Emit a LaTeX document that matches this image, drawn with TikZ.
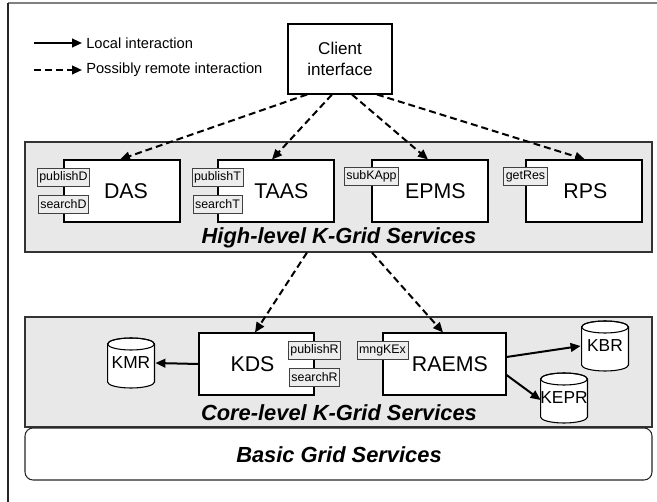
\documentclass[tikz,border=0pt]{standalone}
\usepackage{fontspec}
\setmainfont{Liberation Sans}
\usetikzlibrary{arrows.meta,calc}
\definecolor{layergray}{HTML}{E8E8E8}
\definecolor{portgray}{HTML}{EDEDED}
\tikzset{
  svc/.style={draw, fill=white, line width=0.8pt, minimum width=#1,
    minimum height=46.5pt, inner sep=0pt, font=\fontsize{16}{18}\selectfont},
  svc/.default=87pt,
  port/.style={draw=black!75, fill=portgray, line width=0.6pt,
    inner xsep=1.6pt, inner ysep=0pt, minimum height=13.5pt,
    font=\fontsize{9.3}{10}\selectfont},
  layer/.style={draw=black!80, fill=layergray, line width=0.8pt,
    minimum width=470.25pt, inner sep=0pt},
  title/.style={font=\fontsize{16.4}{18}\selectfont\bfseries\itshape},
  drum/.style={minimum width=36.2pt, minimum height=38.5pt, inner sep=0pt,
    font=\fontsize{13}{15}\selectfont,
    path picture={
      \filldraw[fill=white, line width=0.8pt]
        ([shift={(0.5pt,-5pt)}]path picture bounding box.north west)
        -- ([shift={(0.5pt,5pt)}]path picture bounding box.south west)
        arc[start angle=180, end angle=360, x radius=17.6pt, y radius=4.5pt]
        -- ([shift={(-0.5pt,-5pt)}]path picture bounding box.north east)
        arc[start angle=0, end angle=180, x radius=17.6pt, y radius=4.5pt];
      \draw[line width=0.8pt]
        ([shift={(0pt,-5pt)}]path picture bounding box.north)
        ellipse[x radius=17.6pt, y radius=4.5pt];
    }},
  tipshape/.style={-{Triangle[length=7.5pt,width=6.5pt]}},
  localarrow/.style={tipshape, line width=1.5pt},
  remotearrow/.style={tipshape, line width=1.5pt, dash pattern=on 5.2pt off 3pt},
}
\begin{document}
\begin{tikzpicture}[x=0.75pt, y=-0.75pt]
\useasboundingbox (0,0) rectangle (657,502);

% page frame
\draw[black!50, line width=1.2pt] (8,3) -- (657,3);
\draw[black!85, line width=0.8pt] (8,3) -- (8,502);

% legend
\coordinate (l1a) at (34,43);  \coordinate (l1b) at (82,43);
\coordinate (l2a) at (34,70);  \coordinate (l2b) at (82,70);
\draw[localarrow] (l1a) -- (l1b);
\draw[remotearrow] (l2a) -- (l2b);
\node[anchor=west, inner sep=0pt, font=\fontsize{11}{13}\selectfont] (t1) at (86,43) {Local interaction};
\node[anchor=west, inner sep=0pt, font=\fontsize{11}{13}\selectfont] (t2) at (86,70) {Possibly remote interaction};

% client
\node[draw, fill=white, line width=0.8pt, minimum width=78pt, minimum height=52.5pt,
  align=center, font=\fontsize{12.8}{15.5}\selectfont] (client) at (340,59) {Client\\interface};

% layers
\node[layer, minimum height=82.5pt] (high) at (338.5,197) {};
\node[layer, minimum height=82.5pt] (core) at (338.5,372) {};
\node[draw=black!85, fill=white, line width=0.8pt, rounded corners=6pt,
  minimum width=470.25pt, minimum height=39pt] (basic) at (338.5,454) {};

\node[title] (hightitle) at (339,238) {High-level K-Grid Services};
\node[title] (coretitle) at (339,413) {Core-level K-Grid Services};
\node[title] (basictitle) at (339,455) {Basic Grid Services};

% high-level services
\node[svc] (das)  at (122,191) {\hspace*{6pt}DAS};
\node[svc] (taas) at (276,191) {\hspace*{8pt}TAAS};
\node[svc] (epms) at (430,191) {\hspace*{8pt}EPMS};
\node[svc] (rps)  at (584,191) {\hspace*{2pt}RPS};

\node[port] (pubD) at ($(das.west)+(0,-13.5)$) {publishD};
\node[port] (srcD) at ($(das.west)+(0,13)$) {searchD};
\node[port] (pubT) at ($(taas.west)+(0,-13.5)$) {publishT};
\node[port] (srcT) at ($(taas.west)+(0,13)$) {searchT};
\node[port] (subK) at ($(epms.west)+(0,-14.5)$) {subKApp};
\node[port] (getR) at ($(rps.west)+(0,-14.5)$) {getRes};

% core-level services
\node[svc=86.25pt] (kds) at (256.5,364) {\hspace*{-6pt}KDS};
\node[svc=92.25pt] (raems) at (444.5,364) {\hspace*{8pt}RAEMS};
\node[port] (pubR) at ($(kds.east)+(0,-13.5)$) {publishR};
\node[port] (srcR) at ($(kds.east)+(0,13)$) {searchR};
\node[port] (mngK) at ($(raems.west)+(0,-13.5)$) {mngKEx};

% repositories
\node[drum] (kmr)  at (131,363) {KMR};
\node[drum] (kbr)  at (605,346) {KBR};
\node[drum] (kepr) at (564,398) {KEPR};

% remote interactions
\draw[remotearrow] ($(client.south)+(-33,0)$) -- ($(das.north)+(-2,0)$);
\draw[remotearrow] ($(client.south)+(-8,0)$)  -- ($(taas.north)+(-4,0)$);
\draw[remotearrow] ($(client.south)+(12,0)$)  -- ($(epms.north)+(-2,0)$);
\draw[remotearrow] ($(client.south)+(37,0)$)  -- ($(rps.north)+(1,0)$);
\draw[remotearrow] ($(high.south)+(-31.5,0)$) -- ($(kds.north)+(-1.5,0)$);
\draw[remotearrow] ($(high.south)+(33.5,0)$)  -- ($(raems.north)+(-1.5,0)$);

% local interactions
\draw[localarrow] (kds.west) -- (kmr.east);
\draw[localarrow] ($(raems.east)+(0,-7)$) -- (kbr.west);
\draw[localarrow] ($(raems.east)+(0,11)$) -- ($(kepr.west)+(1,2)$);
\end{tikzpicture}
\end{document}
